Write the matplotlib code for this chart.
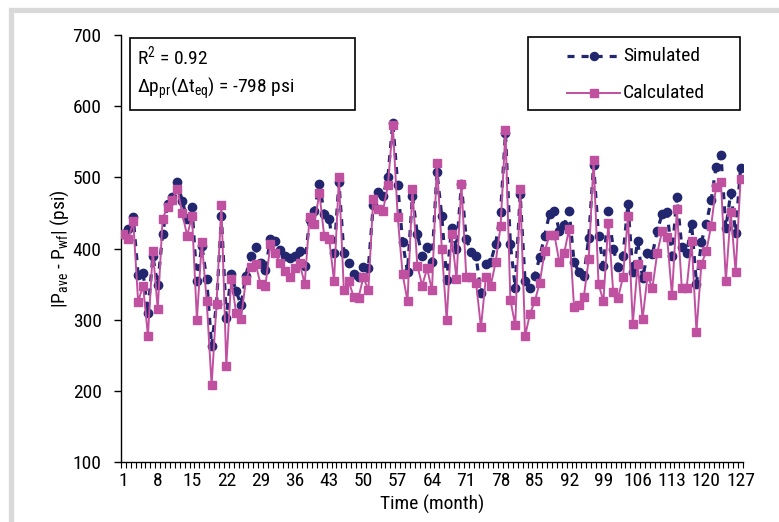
import matplotlib
matplotlib.use("Agg")
import matplotlib.pyplot as plt
from matplotlib import font_manager
from matplotlib.patches import Rectangle
from matplotlib.lines import Line2D

# месяцы и значения |Pave - Pwf|
months = list(range(1, 128))
simulated = [
    420, 427, 444, 363, 366, 310, 389, 349, 421, 462,
    473, 493, 467, 441, 458, 354, 404, 357, 263, 322,
    445, 303, 364, 340, 321, 362, 390, 402, 379, 370,
    414, 411, 398, 389, 386, 389, 396, 376, 440, 453,
    491, 449, 442, 393, 493, 394, 379, 364, 360, 374,
    372, 461, 479, 474, 501, 577, 489, 409, 367, 474,
    420, 389, 402, 381, 508, 445, 356, 429, 400, 490,
    413, 395, 389, 337, 378, 381, 407, 451, 562, 406,
    345, 476, 354, 345, 362, 388, 418, 449, 453, 425,
    433, 453, 381, 367, 361, 415, 518, 418, 376, 453,
    400, 374, 390, 462, 367, 410, 358, 394, 392, 425,
    449, 451, 390, 473, 402, 394, 435, 350, 409, 435,
    468, 515, 531, 429, 478, 422, 513,
]
calculated = [
    420, 413, 438, 325, 348, 277, 397, 315, 442, 458,
    468, 484, 450, 418, 445, 300, 409, 326, 208, 322,
    461, 235, 357, 310, 301, 356, 374, 378, 350, 348,
    406, 393, 380, 369, 360, 372, 379, 350, 444, 435,
    478, 417, 414, 354, 500, 341, 354, 332, 331, 360,
    341, 469, 455, 453, 489, 574, 444, 364, 326, 484,
    376, 348, 372, 341, 520, 400, 299, 420, 357, 491,
    360, 360, 352, 289, 360, 348, 381, 431, 566, 328,
    292, 484, 277, 308, 326, 352, 396, 419, 419, 381,
    394, 428, 318, 321, 332, 385, 524, 350, 326, 436,
    339, 331, 360, 445, 294, 378, 301, 361, 345, 394,
    425, 416, 334, 455, 345, 345, 411, 283, 378, 396,
    432, 487, 493, 354, 451, 367, 497,
]
xtick_labels = list(range(1, 128, 7))
yticks = list(range(100, 701, 100))

sim_color = "#22266e"
calc_color = "#c050a0"


def pick_font():
    for name in ["Liberation Sans Narrow", "Roboto Condensed", "DejaVu Sans"]:
        try:
            font_manager.findfont(name, fallback_to_default=False)
            return name
        except Exception:
            continue
    return "DejaVu Sans"


def main():
    font = pick_font()
    plt.rcParams["font.family"] = [font, "DejaVu Sans"]
    plt.rcParams["mathtext.fontset"] = "custom"
    plt.rcParams["mathtext.rm"] = font
    plt.rcParams["mathtext.it"] = font
    fs = 14

    fig = plt.figure(figsize=(7.79, 5.22), dpi=100)
    ax = fig.add_axes([121 / 779, 1 - 462 / 522, 622 / 779, 427 / 522])

    # светло-серая рамка вокруг рисунка
    fig.patches.append(Rectangle((10.5 / 779, -0.5), 2, 1 - 10.5 / 522 + 0.5,
                                 transform=fig.transFigure, fill=False,
                                 edgecolor="#d9d9d9", linewidth=3.8))

    ax.plot(months, simulated, color=sim_color, linestyle=(0, (2.2, 2.2)),
            linewidth=2.3, marker="o", markersize=6,
            markerfacecolor=sim_color, markeredgecolor=sim_color, zorder=3)
    ax.plot(months, calculated, color=calc_color, linewidth=1.4,
            marker="s", markersize=5.8, markerfacecolor=calc_color,
            markeredgecolor=calc_color, zorder=4)

    ax.set_xlim(0.5, 127.5)
    ax.set_ylim(100, 700)
    ax.set_yticks(yticks)
    ax.set_xticks(xtick_labels)
    ax.set_xticks([m + 0.5 for m in range(0, 128)], minor=True)
    ax.tick_params(axis="x", which="major", length=0, pad=7, labelsize=fs)
    ax.tick_params(axis="x", which="minor", length=4, width=0.8, direction="out")
    ax.tick_params(axis="y", which="major", length=5, width=1.0, pad=9,
                   labelsize=fs, direction="out")
    for s in ["top", "right"]:
        ax.spines[s].set_visible(False)
    ax.spines["left"].set_linewidth(1.0)
    ax.spines["bottom"].set_linewidth(1.0)

    ax.set_xlabel("Time (month)", fontsize=fs, labelpad=4)
    ax.set_ylabel(r"|P$_{\rm ave}$ - P$_{\rm wf}$| (psi)", fontsize=fs, labelpad=1)

    # рамка с коэффициентом детерминации
    tr = ax.transAxes
    ax.add_patch(Rectangle(((130 - 121) / 622, (462 - 110) / 427),
                           225 / 622, 72 / 427, transform=tr, fill=False,
                           edgecolor="black", linewidth=1.2, clip_on=False, zorder=5))
    ax.text((137 - 121) / 622, (462 - 56) / 427, r"R$^2$ = 0.92", transform=tr,
            fontsize=fs, va="center", ha="left", zorder=6)
    ax.text((137 - 121) / 622, (462 - 88) / 427,
            r"$\Delta$p$_{\rm pr}$($\Delta$t$_{\rm eq}$) = -798 psi", transform=tr,
            fontsize=fs, va="center", ha="left", zorder=6)

    # легенда
    ax.add_patch(Rectangle(((528 - 121) / 622, (462 - 110) / 427),
                           212 / 622, 73 / 427, transform=tr, facecolor="white",
                           edgecolor="black", linewidth=1.2, clip_on=False, zorder=5))
    x0, x1 = (567 - 121) / 622, (620 - 121) / 622
    for yy, style, col, lw, mk, label in [
        (56, (0, (2.2, 2.2)), sim_color, 2.3, "o", "Simulated"),
        (93, "-", calc_color, 1.4, "s", "Calculated"),
    ]:
        yf = (462 - yy) / 427
        ax.add_line(Line2D([x0, x1], [yf, yf], transform=tr, color=col,
                           linestyle=style, linewidth=lw, clip_on=False, zorder=6))
        ax.add_line(Line2D([(x0 + x1) / 2], [yf], transform=tr, color=col,
                           marker=mk, markersize=5.8, linestyle="none",
                           clip_on=False, zorder=7))
        ax.text((623 - 121) / 622, yf, label, transform=tr, fontsize=fs,
                va="center", ha="left", zorder=7)

    fig.savefig("out.png", dpi=100)


if __name__ == "__main__":
    main()
